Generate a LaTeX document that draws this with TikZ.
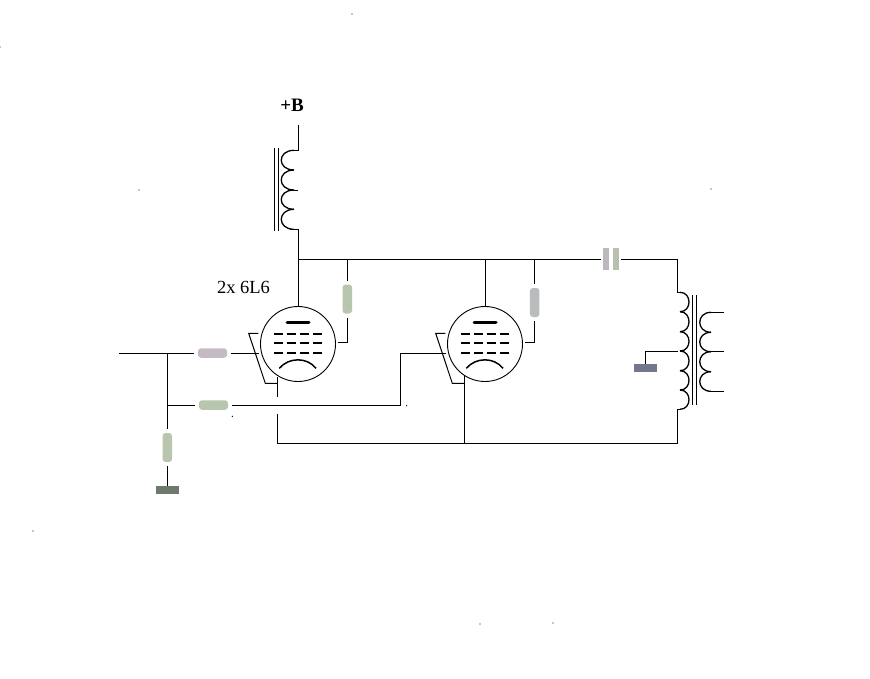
\documentclass[tikz,border=0pt]{standalone}
\usepackage{fontspec}
\setmainfont{Liberation Serif}
\definecolor{respink}{HTML}{C4BAC4}
\definecolor{resgreen}{HTML}{B9C6AE}
\definecolor{resgrey}{HTML}{B8BCBC}
\definecolor{capleft}{HTML}{BDB8BD}
\definecolor{capright}{HTML}{B8C0B0}
\definecolor{gndgreen}{HTML}{6E7A6E}
\definecolor{gndblue}{HTML}{74788C}
\tikzset{
  wire/.style={line width=1pt},
  coil/.style={line width=1.3pt},
  tube/.style={circle,draw,line width=.9pt,minimum size=75pt,inner sep=0pt},
  resh/.style={rectangle,rounded corners=3pt,minimum width=29pt,minimum height=9.5pt,inner sep=0pt,outer sep=4pt},
  resv/.style={rectangle,rounded corners=3pt,minimum width=9.5pt,minimum height=29pt,inner sep=0pt,outer sep=4pt},
  capplate/.style={rectangle,minimum width=6pt,minimum height=22pt,inner sep=0pt,outer sep=2pt},
  gnd/.style={rectangle,minimum width=23pt,minimum height=8pt,inner sep=0pt},
  lbl/.style={font=\fontsize{18.5}{20}\selectfont,inner sep=0pt}
}
\begin{document}
\begin{tikzpicture}[x=1pt,y=-1pt]
\useasboundingbox (0,0) rectangle (870,678);
% labels
\node[lbl,font=\fontsize{19}{20}\selectfont\bfseries] (plus) at (292,105) {+B};
\node[lbl] (type) at (243.5,287) {2x 6L6};
% tubes
\node[tube] (v1) at (298,344) {};
\node[tube] (v2) at (485,344) {};
\foreach \tube in {v1,v2}{
\begin{scope}[shift={(\tube.center)}]
\draw[line width=3pt,line cap=round](-11,-22)--(11,-22);
\foreach \gy in {-10.3,-1.3,8.7}
  \draw[line width=2pt,dash pattern=on 9pt off 4pt](-24,\gy)--(24,\gy);
\draw[line width=1.5pt](-18.7,24.3) .. controls (-9,13) and (9,13) .. (18,24.3);
\draw[wire](-39.7,-10.7)--(-49.3,-10.7)--(-32.7,39.3)--(-20.7,39.3);
\end{scope}
}
% resistors, capacitor, grounds
\node[resh,fill=respink] (rg1) at (212.5,353) {};
\node[resh,fill=resgreen] (rg2) at (213.5,405) {};
\node[resv,fill=resgreen] (rl) at (167.3,447.5) {};
\node[resv,fill=resgreen] (rs1) at (347.3,299) {};
\node[resv,fill=resgrey] (rs2) at (534.7,302.5) {};
\node[capplate,fill=capleft] (c1) at (606,259.3) {};
\node[capplate,fill=capright] (c2) at (616,259.3) {};
\node[gnd,fill=gndgreen] (g1) at (167.3,490) {};
\node[gnd,fill=gndblue] (g2) at (645.3,368) {};
% wire points
\coordinate (in) at (119,353);
\coordinate (j1) at (167.3,353);
\coordinate (j2) at (167.3,405);
\coordinate (g1in) at (259,353);
\coordinate (g2a) at (400,405);
\coordinate (g2b) at (400,353);
\coordinate (g2in) at (446,353);
\coordinate (k1a) at (277.3,377);
\coordinate (k1b) at (277.3,397);
\coordinate (k1c) at (277.3,414);
\coordinate (k1d) at (277.3,443.7);
\coordinate (k2a) at (464.3,375);
\coordinate (k2d) at (464.3,443.7);
\coordinate (bb) at (298.3,125);
\coordinate (ct) at (298.3,150.3);
\coordinate (cb) at (298.3,229.3);
\coordinate (top) at (298.3,259.3);
\coordinate (s1a) at (338,342);
\coordinate (s1b) at (347.3,342);
\coordinate (s1c) at (347.3,259.3);
\coordinate (p2) at (485,259.3);
\coordinate (s2a) at (525,342);
\coordinate (s2b) at (534.7,342);
\coordinate (s2c) at (534.7,259.3);
\coordinate (tr1) at (677.7,259.3);
\coordinate (tr2) at (677.7,292.3);
\coordinate (tr3) at (677.7,409.3);
\coordinate (tr4) at (677.7,443.7);
\coordinate (tap) at (677.7,351.3);
\coordinate (tapl) at (645.3,351.3);
% wires
\draw[wire](in)--(rg1.west);
\draw[wire](rg1.east)--(g1in);
\draw[wire](j1)--(rl.north);
\draw[wire](j2)--(rg2.west);
\draw[wire](rl.south)--(g1.north);
\draw[wire](rg2.east)--(g2a)--(g2b)--(g2in);
\draw[wire](k1a)--(k1b);
\draw[wire](k1c)--(k1d)--(tr4)--(tr3);
\draw[wire](k2a)--(k2d);
\draw[wire](bb)--(ct)--++(-8,0);
\draw[wire](cb)--++(-8,0);
\draw[wire](cb)--(top)--(top|-v1.north);
\draw[wire](top)--(c1.west);
\draw[wire](c2.east)--(tr1)--(tr2)--++(3,0);
\draw[wire](tr3)--++(3,0);
\draw[wire](s1a)--(s1b)--(rs1.south);
\draw[wire](rs1.north)--(s1c);
\draw[wire](p2)--(v2.north);
\draw[wire](s2a)--(s2b)--(rs2.south);
\draw[wire](rs2.north)--(s2c);
\draw[wire](g2.north)--(tapl)--(tap);
% choke
\foreach \ya/\yb in {150.3/170,170/190,190/209.3,209.3/229.3}
  \draw[coil](294,\ya) .. controls (277,\ya) and (277,\yb) .. (294,\yb);
\draw[wire](294,190)--++(3.7,0);
\draw[wire](274.3,148.3)--(274.3,231);
\draw[wire](278.3,148.3)--(278.3,231);
% output transformer
\foreach \ya/\yb in {292.3/311.7,311.7/331.7,331.7/351,351/370.7,370.7/390,390/409.3}
  \draw[coil](680,\ya) .. controls (692,\ya) and (692,\yb) .. (680,\yb);
\foreach \ya/\yb in {312.3/332.3,332.3/351.7,351.7/371.7,371.7/391.3}
  \draw[coil](711,\ya) .. controls (696,\ya) and (696,\yb) .. (711,\yb);
\draw[wire](692.3,295)--(692.3,405);
\draw[wire](696.3,295)--(696.3,405);
\draw[wire](711,312.3)--++(12.7,0);
\draw[wire](711,351.7)--++(12.7,0);
\draw[wire](711,391.3)--++(12.7,0);
% specks
\foreach \sx/\sy in {352/14,0/47,139/190,711/189,33/531,480/624,553/623,406.7/405.7,232.3/416.3}
  \fill (\sx,\sy) circle (.7pt);
\end{tikzpicture}
\end{document}
